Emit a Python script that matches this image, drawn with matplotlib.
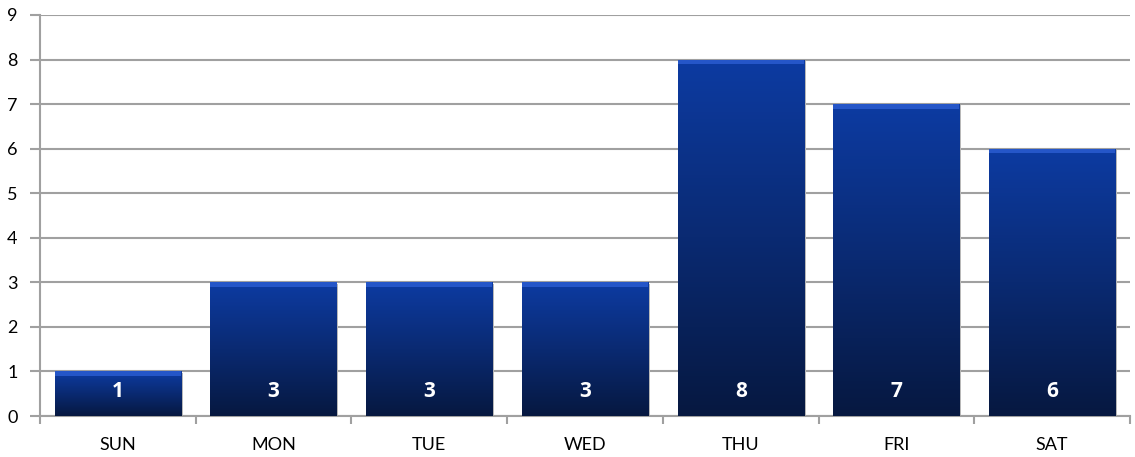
import numpy as np
import matplotlib
matplotlib.use("Agg")
import matplotlib.pyplot as plt
from matplotlib.colors import LinearSegmentedColormap

days = ["SUN", "MON", "TUE", "WED", "THU", "FRI", "SAT"]
counts = [1, 3, 3, 3, 8, 7, 6]

plt.rcParams['font.family'] = ['Lato', 'DejaVu Sans']

fig = plt.figure(figsize=(11.35, 4.57), dpi=100)
ax = fig.add_axes([0.0352, 0.0897, 0.9604, 0.8775])

x = np.arange(len(days))
width = 0.81
cmap = LinearSegmentedColormap.from_list("bar", ["#061840", "#0a2a72", "#0d3ba2"])
grad = np.linspace(0, 1, 256).reshape(-1, 1)

ax.set_xlim(-0.5, len(days) - 0.5)
ax.set_ylim(0, 9)

for xi, v in zip(x, counts):
    left = xi - width / 2
    # shadow
    ax.add_patch(plt.Rectangle((left + 0.012, -0.03), width, v, color="#b8b8b8",
                               zorder=2, lw=0))
    bar = plt.Rectangle((left, 0), width, v, facecolor="none", lw=0, zorder=3)
    ax.add_patch(bar)
    im = ax.imshow(grad, extent=(left, left + width, 0, v), origin="lower",
                   cmap=cmap, aspect="auto", zorder=3)
    im.set_clip_path(bar)
    # bevel highlight at top
    ax.add_patch(plt.Rectangle((left, v - 0.1), width, 0.1, facecolor="#2a5cd0",
                               alpha=0.85, lw=0, zorder=4))
    ax.text(xi, 0.56, str(v), color="white", fontsize=15, fontweight="bold",
            family=["Open Sans", "DejaVu Sans"],
            ha="center", va="center", zorder=5)

ax.set_yticks(range(10))
ax.yaxis.grid(True, color="#a0a0a0", lw=1.5)
ax.set_axisbelow(True)
ax.set_xticks(x)
ax.set_xticklabels(days)
ax.set_xticks(np.arange(-0.5, len(days)), minor=True)
ax.tick_params(axis="x", which="major", length=0, pad=15, labelsize=13)
ax.tick_params(axis="x", which="minor", length=6, color="#a0a0a0", width=1.5)
ax.tick_params(axis="y", length=7, color="#a0a0a0", width=1.5, labelsize=13, pad=9)

for s in ["top", "right"]:
    ax.spines[s].set_visible(False)
for s in ["left", "bottom"]:
    ax.spines[s].set_color("#a0a0a0")
    ax.spines[s].set_linewidth(1.5)

fig.savefig("out.png", dpi=100)
